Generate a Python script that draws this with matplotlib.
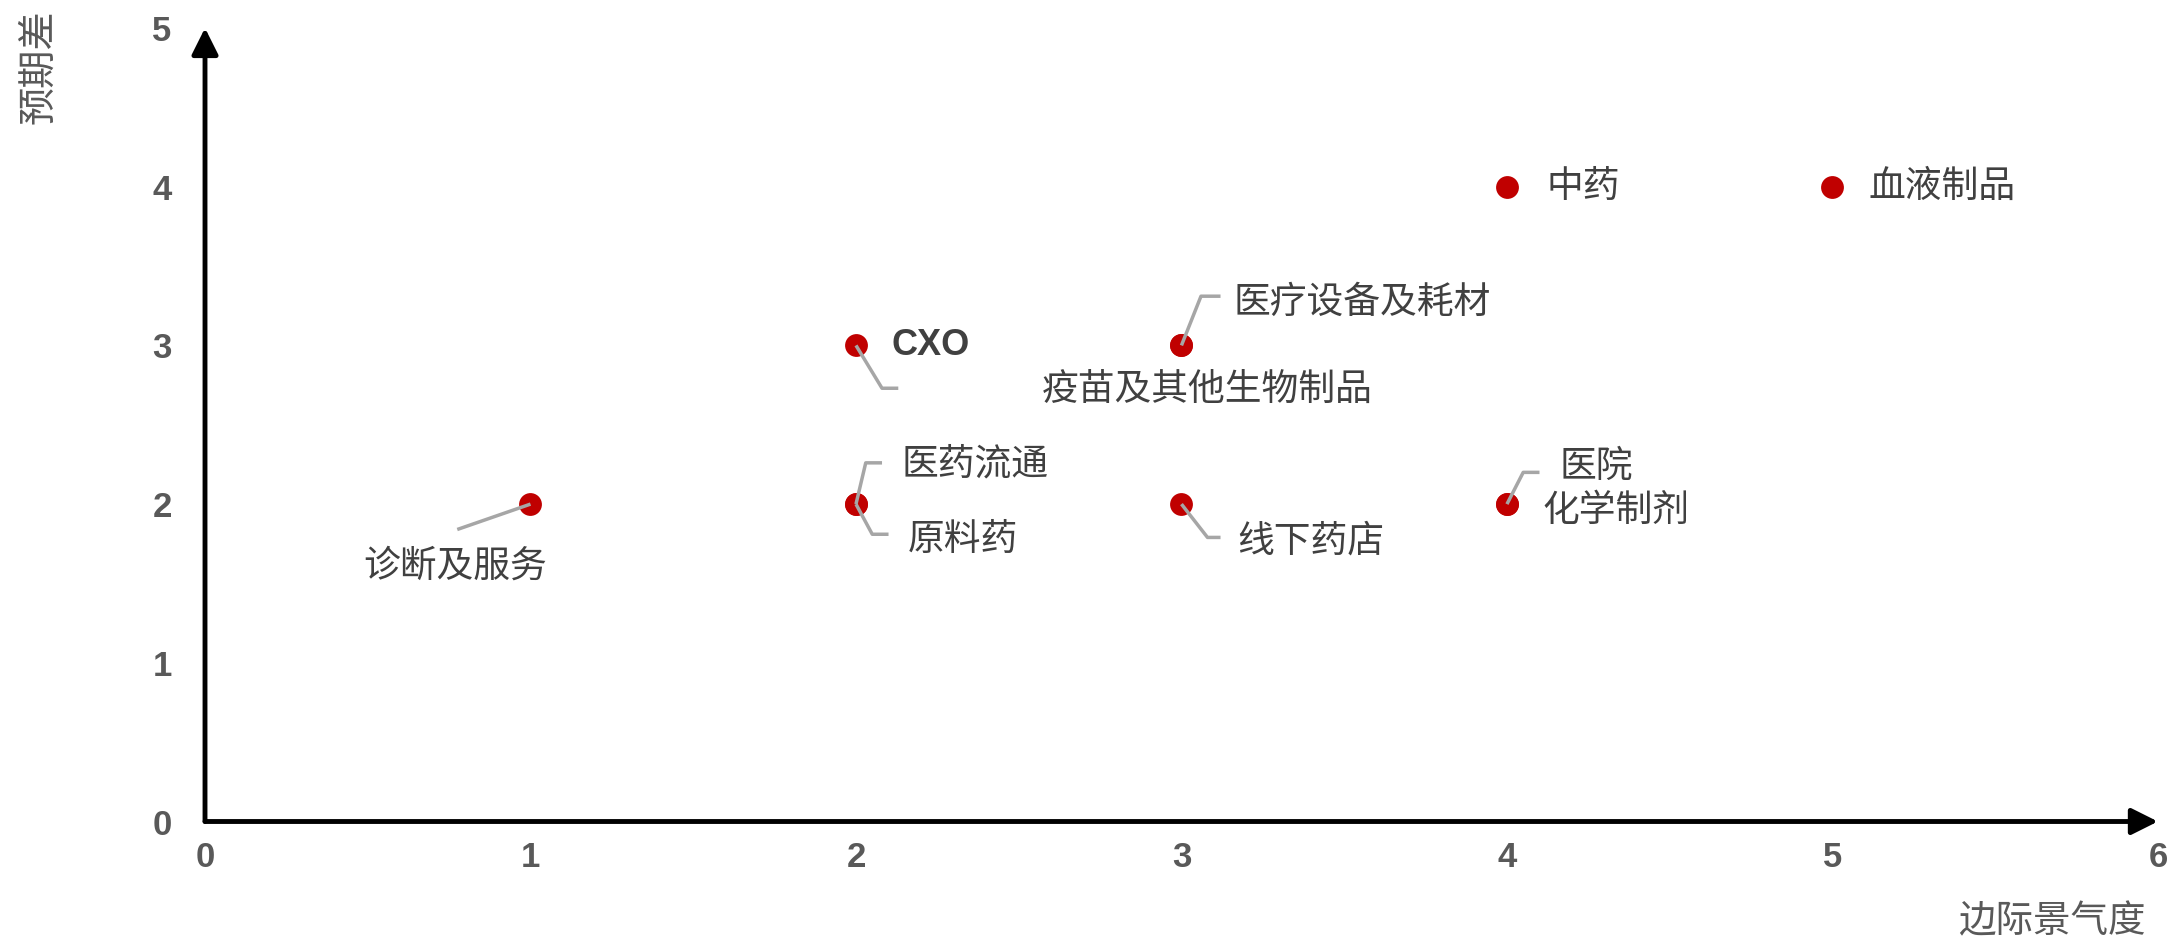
import matplotlib.pyplot as plt

plt.rcParams['font.family'] = ['Noto Sans CJK SC', 'DejaVu Sans']

# sectors: (marginal climate, expectation gap)
names = ['诊断及服务', 'CXO', '医疗设备及耗材', '疫苗及其他生物制品', '医药流通', '原料药',
         '线下药店', '医院', '化学制剂', '中药', '血液制品']
xs = [1, 2, 3, 3, 2, 2, 3, 4, 4, 4, 5]
ys = [2, 3, 3, 3, 2, 2, 2, 2, 2, 4, 4]

# label anchor positions (data coords) and alignment
label_x = [0.77, 2.11, 3.16, 3.08, 2.14, 2.16, 3.17, 4.16, 4.11, 4.12, 5.11]
label_y = [1.61, 3.00, 3.27, 2.72, 2.25, 1.78, 1.77, 2.24, 1.96, 4.00, 4.00]
label_ha = ['center', 'left', 'left', 'center', 'left', 'left', 'left', 'left', 'left', 'left', 'left']

# leader lines: elbow point and end point (None = no leader)
elbow = [(0.775, 1.84), (2.08, 2.73), (3.06, 3.31), None, (2.03, 2.26), (2.05, 1.81),
         (3.08, 1.79), (4.05, 2.20), None, None, None]
lead_end = [(0.775, 1.84), (2.13, 2.73), (3.12, 3.31), None, (2.08, 2.26), (2.10, 1.81),
            (3.12, 1.79), (4.10, 2.20), None, None, None]

fig = plt.figure(figsize=(21.74, 9.46), dpi=100)
ax = fig.add_axes([0.0943, 0.1316, 0.8983, 0.8388])

ax.set_xlim(0, 6)
ax.set_ylim(0, 5)
for s in ax.spines.values():
    s.set_visible(False)

# axis arrows
ax.annotate('', xy=(6, 0), xytext=(0, 0), annotation_clip=False,
            arrowprops=dict(arrowstyle='-|>', color='black', lw=3.5,
                            mutation_scale=40, shrinkA=0, shrinkB=0))
ax.annotate('', xy=(0, 5), xytext=(0, 0), annotation_clip=False,
            arrowprops=dict(arrowstyle='-|>', color='black', lw=3.5,
                            mutation_scale=40, shrinkA=0, shrinkB=0))

# leaders
for i in range(len(names)):
    if elbow[i] is None:
        continue
    ax.plot([xs[i], elbow[i][0], lead_end[i][0]], [ys[i], elbow[i][1], lead_end[i][1]],
            color='#A6A6A6', lw=2.5, zorder=4, solid_capstyle='butt')

ax.scatter(xs, ys, s=270, color='#C00000', zorder=3, linewidths=0)

for i, n in enumerate(names):
    if n == 'CXO':
        ax.text(label_x[i], label_y[i], n, ha='left', va='center', fontsize=26,
                fontweight='bold', family=['Liberation Sans'], color='#404040')
    else:
        ax.text(label_x[i], label_y[i], n, ha=label_ha[i], va='center', fontsize=26.5,
                color='#404040')

ax.set_xticks(range(0, 7))
ax.set_yticks(range(0, 6))
ax.tick_params(length=0, labelsize=25, colors='#595959')
ax.tick_params(axis='x', pad=14)
ax.tick_params(axis='y', pad=24)
for lab in ax.get_xticklabels() + ax.get_yticklabels():
    lab.set_fontweight('bold')
    lab.set_family(['Liberation Sans'])

fig.text(39 / 2174, 1 - 67 / 946, '预期差', rotation=90, ha='center', va='center',
         fontsize=27.5, color='#595959')
fig.text(2146 / 2174, 1 - 922 / 946, '边际景气度', ha='right', va='center',
         fontsize=27, color='#595959')

fig.savefig('out.png', dpi=100)
